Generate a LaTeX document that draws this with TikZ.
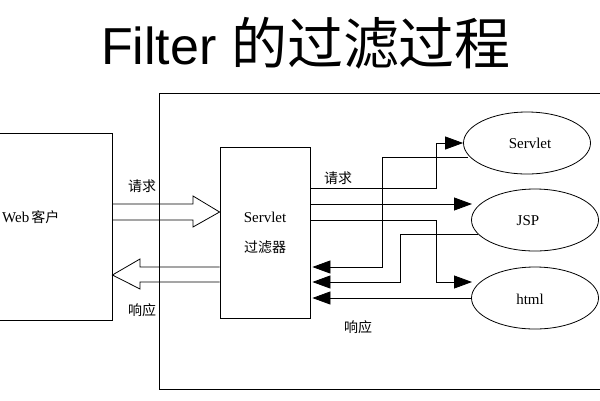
\documentclass[tikz,border=0pt]{standalone}
\usepackage{fontspec}
\setmainfont{Liberation Serif}
\newfontfamily\titlefont{Liberation Sans}
\newfontfamily\cjk{Noto Sans CJK SC}
\usetikzlibrary{arrows.meta,shapes.geometric,calc}
\tikzset{
  box/.style={draw, line width=0.8pt, minimum width=#1},
  ell/.style={draw, ellipse, line width=0.8pt, minimum width=127pt, minimum height=62pt, inner sep=0pt},
  lbl/.style={font=\fontsize{15}{15}\selectfont, inner sep=0pt},
  clbl/.style={font=\cjk\fontsize{14}{14}\selectfont, inner sep=0pt},
  conn/.style={line width=0.8pt, -{Triangle[length=18pt,width=13pt]}},
  fat/.style={line width=0.8pt, line join=miter}
}
\begin{document}
\begin{tikzpicture}[x=1pt,y=-1pt]
\useasboundingbox (0,0) rectangle (600,400);
% title
\node (title) at (306,43) {\titlefont\fontsize{52}{52}\selectfont Filter {\cjk\fontsize{56}{56}\selectfont 的过滤过程}};
% boxes
\node[box=461pt, minimum height=296pt] (outer) at (389.5,241) {};
\node[box=117pt, minimum height=187pt] (web) at (53.5,226.5) {};
\node[lbl, anchor=west] (webtxt) at (2,217) {Web\kern2pt{\cjk\fontsize{14}{14}\selectfont 客户}};
\node[box=90pt, minimum height=171pt] (filter) at (265,232.5) {};
\node[lbl] (flt1) at (265,217) {Servlet};
\node[clbl] (flt2) at (265,247) {过滤器};
% ellipses
\node[ell] (sv) at (527,143) {};
\node[lbl] at (530,143) {Servlet};
\node[ell] (jsp) at (535,220) {};
\node[lbl] at (528,221) {JSP};
\node[ell] (html) at (535,298) {};
\node[lbl] at (530,299) {html};
% hollow double arrows
\draw[fat] (web.east |- 0,204) -- (193,204) -- (193,196) -- (filter.west |- 0,212) -- (193,227) -- (193,220) -- (web.east |- 0,220);
\draw[fat] (filter.west |- 0,267) -- (140,267) -- (140,259) -- (web.east |- 0,275) -- (140,289) -- (140,282) -- (filter.west |- 0,282);
\node[clbl] (req1) at (142,186) {请求};
\node[clbl] (res1) at (142,310) {响应};
% request connectors
\draw[conn] (filter.east |- 0,188) -- (436,188) |- (sv.west);
\draw[conn] (filter.east |- 0,204) -- (472,204);
\draw[conn] (filter.east |- 0,220) -- (436,220) |- (472,282);
% response connectors
\draw[conn, shorten >=2pt] (468,157) -- (382,157) |- (filter.east |- 0,267);
\draw[conn, shorten >=2pt] (478,234) -- (400,234) |- (filter.east |- 0,282);
\draw[conn, shorten >=2pt] (html.west) -- (filter.east |- html.west);
\node[clbl] (req2) at (338,178) {请求};
\node[clbl] (res2) at (358,327) {响应};
\end{tikzpicture}
\end{document}
